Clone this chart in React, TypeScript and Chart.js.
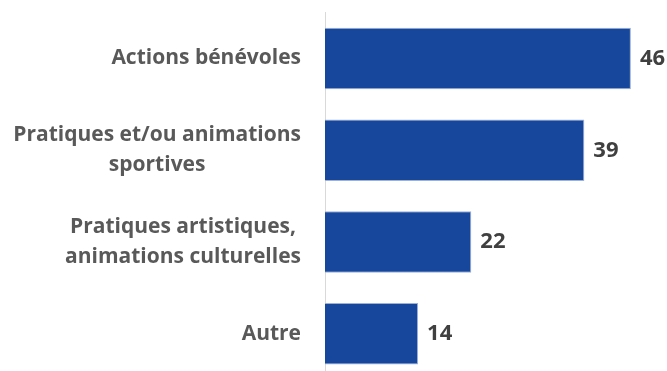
import React, { useEffect, useRef } from "react";
import { Chart, registerables } from "chart.js";

Chart.register(...registerables);

const categories: string[][] = [
  ["Actions bénévoles"],
  ["Pratiques et/ou animations", "sportives"],
  ["Pratiques artistiques,", "animations culturelles"],
  ["Autre"],
];
const values: number[] = [46, 39, 22, 14];
const xMax = 50;

const FONT = "'Open Sans', Lato, sans-serif";
const LABEL_SIZE = 21;
const VALUE_SIZE = 22;
const LINE_H = 30;

const labelPlugin = {
  id: "customLabels",
  afterDraw(chart: any) {
    const ctx = chart.ctx as CanvasRenderingContext2D;
    const yScale = chart.scales.y;
    const labelRight = chart.chartArea.left - 24;
    ctx.save();
    ctx.font = `bold ${LABEL_SIZE}px ${FONT}`;
    ctx.fillStyle = "#595959";
    ctx.textBaseline = "middle";
    ctx.textAlign = "center";
    categories.forEach((lines, i) => {
      const cy = yScale.getPixelForValue(i);
      const w = Math.max(...lines.map((l) => ctx.measureText(l).width));
      const cx = labelRight - w / 2;
      const n = lines.length;
      lines.forEach((l, j) => {
        ctx.fillText(l, cx, cy + (j - (n - 1) / 2) * LINE_H);
      });
    });
    const meta = chart.getDatasetMeta(0);
    ctx.font = `bold ${VALUE_SIZE}px ${FONT}`;
    ctx.fillStyle = "#404040";
    ctx.textAlign = "left";
    meta.data.forEach((bar: any, i: number) => {
      ctx.fillText(String(values[i]), bar.x + 9, bar.y);
    });
    ctx.restore();
  },
};

export default function App() {
  const ref = useRef<HTMLCanvasElement | null>(null);
  useEffect(() => {
    if (!ref.current) return;
    const chart = new Chart(ref.current, {
      type: "bar",
      data: {
        labels: categories.map((c) => c.join(" ")),
        datasets: [
          {
            data: values,
            backgroundColor: "#17479C",
            borderColor: "#9DB0D6",
            borderWidth: 1,
            barPercentage: 0.67,
            categoryPercentage: 1,
          },
        ],
      },
      options: {
        indexAxis: "y",
        animation: false,
        responsive: false,
        maintainAspectRatio: false,
        layout: { padding: { left: 325, right: 9.5, top: 12.6, bottom: 10.3 } },
        plugins: { legend: { display: false }, tooltip: { enabled: false } },
        scales: {
          x: { display: false, min: 0, max: xMax },
          y: {
            display: true,
            ticks: { display: false },
            grid: { display: false },
            border: { display: true, color: "#D9D9D9", width: 1 },
            afterFit(scale: any) {
              scale.width = 0;
            },
          },
        },
      },
      plugins: [labelPlugin],
    });
    return () => chart.destroy();
  }, []);
  return (
    <div style={{ position: "absolute", left: 0, top: 0, width: 667, height: 390, overflow: "hidden" }}>
      <canvas ref={ref} width={667} height={390} style={{ width: 667, height: 390 }} />
    </div>
  );
}
